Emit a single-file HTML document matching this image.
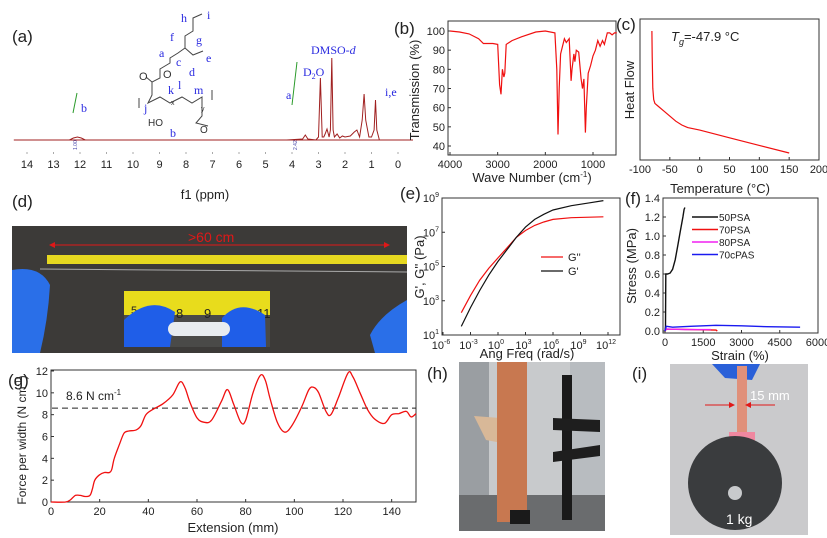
<!DOCTYPE html>
<html><head><meta charset="utf-8"><style>
body{margin:0;background:#fff}
svg{display:block;font-family:"Liberation Sans",sans-serif}
.tk{font-size:11px;fill:#222}
.tt{font-size:13px;fill:#222}
.pl{font-size:17px;fill:#222}
.bl{font-family:"Liberation Serif",serif;fill:#2a2ae0;font-size:12px}
</style></head><body>
<svg id="fig" width="827" height="538" viewBox="0 0 827 538" xmlns="http://www.w3.org/2000/svg">
<!-- Panel a -->
<g>
<text class="pl" x="12" y="42">(a)</text>
<g id="nmrAxis"></g>
<text class="tt" x="205" y="199" text-anchor="middle">f1 (ppm)</text>
<polyline id="nmrLine" fill="none" stroke="#a02020" stroke-width="1"></polyline>
<line x1="77" y1="93" x2="73" y2="113" stroke="#2a9a2a"/>
<line x1="297" y1="62" x2="292" y2="105" stroke="#2a9a2a"/>
<text x="77" y="150" font-size="5" fill="#44a" transform="rotate(-90 77 150)">1.00</text>
<text x="297" y="150" font-size="5" fill="#44a" transform="rotate(-90 297 150)">2.42</text>
<g stroke="#444" stroke-width="1" fill="none">
<polyline points="202,14 193,18 193,31 185,36 185,48 178,53 170,58 170,63 160,69 160,78 152,82 152,95 148,103 160,97 170,103 182,97 192,103 202,97 202,116 196,123 208,126"/>
<polyline points="185,48 193,55 203,51"/>
<line x1="152" y1="82" x2="146" y2="77"/>
<line x1="139" y1="98" x2="139" y2="108"/><line x1="212" y1="90" x2="212" y2="100"/>
</g>
<text x="139" y="80" font-size="11" fill="#333">O</text>
<text x="163" y="78" font-size="11" fill="#333">O</text>
<text x="148" y="126" font-size="10" fill="#333">HO</text>
<text x="200" y="133" font-size="10" fill="#333">O</text>
<text class="bl" x="181" y="22">h</text>
<text class="bl" x="207" y="19">i</text>
<text class="bl" x="170" y="41">f</text>
<text class="bl" x="196" y="44">g</text>
<text class="bl" x="159" y="57">a</text>
<text class="bl" x="176" y="66">c</text>
<text class="bl" x="206" y="62">e</text>
<text class="bl" x="189" y="76">d</text>
<text class="bl" x="168" y="94">k</text>
<text class="bl" x="178" y="89">l</text>
<text class="bl" x="194" y="94">m</text>
<text class="bl" x="144" y="112">j</text>
<text x="171" y="105" font-size="7" fill="#333">x</text><text x="201" y="111" font-size="7" fill="#333">y</text>
<text class="bl" x="81" y="112">b</text>
<text class="bl" x="170" y="137">b</text>
<text class="bl" x="286" y="99">a</text>
<text class="bl" x="303" y="76">D<tspan font-size="8" dy="3">2</tspan><tspan dy="-3">O</tspan></text>
<text class="bl" x="311" y="54">DMSO-<tspan font-style="italic">d</tspan></text>
<text class="bl" x="385" y="96">i,e</text>
</g>

<!-- Panel b -->
<g>
<text class="pl" x="394" y="34">(b)</text>
<rect x="448" y="21" width="168" height="134" fill="none" stroke="#333"/>
<g id="ftirAxes"></g>
<polyline id="ftirLine" fill="none" stroke="#f01010" stroke-width="1.2"></polyline>
<text class="tt" x="532" y="182" text-anchor="middle">Wave Number (cm<tspan font-size="8" dy="-5">-1</tspan><tspan dy="5">)</tspan></text>
<text class="tt" x="419" y="90" text-anchor="middle" transform="rotate(-90 419 90)">Transmission (%)</text>
</g>

<!-- Panel c -->
<g>
<text class="pl" x="616" y="30">(c)</text>
<rect x="640" y="19" width="179" height="141" fill="none" stroke="#333"/>
<g id="dscAxes"></g>
<polyline id="dscLine" fill="none" stroke="#f01010" stroke-width="1.2"></polyline>
<text class="tt" x="671" y="41"><tspan font-style="italic">T</tspan><tspan font-size="9" dy="4" font-style="italic">g</tspan><tspan dy="-4">=-47.9 °C</tspan></text>
<text class="tt" x="634" y="90" text-anchor="middle" transform="rotate(-90 634 90)">Heat Flow</text>
<text class="tt" x="720" y="193" text-anchor="middle">Temperature (°C)</text>
</g>

<!-- Panel d photo -->
<g>
<text class="pl" x="12" y="207">(d)</text>
<rect x="12" y="226" width="395" height="127" fill="#3c3a38"/>
<rect x="47" y="255" width="360" height="9" fill="#e6d820"/>
<line x1="40" y1="269" x2="407" y2="272" stroke="#aaa" stroke-width="1"/>
<line x1="52" y1="245" x2="387" y2="245" stroke="#e01818" stroke-width="1"/>
<polygon points="49,245 55,242 55,248" fill="#e01818"/><polygon points="390,245 384,242 384,248" fill="#e01818"/>
<text x="188" y="242" font-size="14" fill="#e01818">&gt;60 cm</text>
<path d="M12,270 Q40,265 50,285 Q48,320 40,353 L12,353 Z" fill="#2a6fe8"/>
<path d="M407,300 Q380,315 370,335 L375,353 L407,353 Z" fill="#2a6fe8"/>
<rect x="124" y="291" width="146" height="56" fill="#4a4a48"/>
<rect x="124" y="291" width="146" height="24" fill="#e8dc1c"/>
<text x="131" y="314" font-size="11" fill="#222">5</text><text x="176" y="318" font-size="13" fill="#222">8</text><text x="204" y="318" font-size="13" fill="#222">9</text><text x="257" y="318" font-size="13" fill="#222">11</text>
<path d="M124,320 Q150,295 175,312 L170,347 L124,347 Z" fill="#1f5ee8"/>
<path d="M222,318 Q240,298 265,315 L266,347 L222,347 Z" fill="#1f5ee8"/>
<rect x="168" y="322" width="62" height="14" rx="7" fill="#e8ecef"/>
</g>

<!-- Panel e -->
<g>
<text class="pl" x="400" y="199">(e)</text>
<rect x="442" y="198" width="178" height="137" fill="none" stroke="#333"/>
<g id="rheoAxes"></g>
<polyline id="gpp" fill="none" stroke="#f01010" stroke-width="1.2"></polyline>
<polyline id="gp" fill="none" stroke="#111" stroke-width="1.2"></polyline>
<line x1="541" y1="257" x2="563" y2="257" stroke="#f01010" stroke-width="1.3"/>
<text x="568" y="261" font-size="11" fill="#222">G''</text>
<line x1="541" y1="271" x2="563" y2="271" stroke="#111" stroke-width="1.3"/>
<text x="568" y="275" font-size="11" fill="#222">G'</text>
<text class="tt" x="424" y="267" text-anchor="middle" transform="rotate(-90 424 267)">G', G'' (Pa)</text>
<text class="tt" x="527" y="358" text-anchor="middle">Ang Freq (rad/s)</text>
</g>

<!-- Panel f -->
<g>
<text class="pl" x="625" y="204">(f)</text>
<rect x="663" y="198" width="155" height="135" fill="none" stroke="#333"/>
<g id="tenAxes"></g>
<g id="tenLines"></g>
<g id="tenLegend"></g>
<text class="tt" x="636" y="266" text-anchor="middle" transform="rotate(-90 636 266)">Stress (MPa)</text>
<text class="tt" x="740" y="360" text-anchor="middle">Strain (%)</text>
</g>

<!-- Panel g -->
<g>
<text class="pl" x="8" y="386">(g)</text>
<rect x="51" y="370" width="365" height="132" fill="none" stroke="#333"/>
<g id="peelAxes"></g>
<line id="peelRef" stroke="#222" stroke-dasharray="6,4" stroke-width="1"/>
<path id="peelLine" fill="none" stroke="#f01010" stroke-width="1.3"></path>
<text x="66" y="400" font-size="12" fill="#222">8.6 N cm<tspan font-size="8" dy="-5">-1</tspan></text>
<text x="26" y="440" font-size="12" fill="#222" text-anchor="middle" transform="rotate(-90 26 440)">Force per width (N cm<tspan font-size="8" dy="-5">-1</tspan><tspan dy="5">)</tspan></text>
<text class="tt" x="233" y="532" text-anchor="middle">Extension (mm)</text>
</g>

<!-- Panel h photo -->
<g>
<text class="pl" x="427" y="379">(h)</text>
<rect x="459" y="362" width="146" height="169" fill="#c8cacc"/>
<rect x="459" y="362" width="30" height="169" fill="#9a9ea2"/>
<rect x="570" y="362" width="35" height="169" fill="#b8bcc0"/>
<rect x="459" y="495" width="146" height="36" fill="#6a6c6e"/>
<polygon points="474,416 500,418 502,443 486,440" fill="#d8b898"/>
<rect x="497" y="362" width="30" height="160" fill="#c87850"/>
<rect x="562" y="375" width="10" height="145" fill="#1a1a1a"/>
<path d="M553,418 L600,420 L600,432 L553,430 Z M553,452 L600,445 L600,456 L553,462 Z" fill="#1e1e1e"/>
<rect x="510" y="510" width="20" height="14" fill="#1a1a1a"/>
</g>

<!-- Panel i photo -->
<g>
<text class="pl" x="632" y="379">(i)</text>
<rect x="670" y="364" width="138" height="171" fill="#cacacc"/>
<path d="M712,364 L760,364 L752,380 L725,378 Z" fill="#2a60d8"/>
<rect x="737" y="366" width="10" height="76" fill="#e0907a"/>
<rect x="729" y="432" width="26" height="10" fill="#f088a0"/>
<rect x="738" y="442" width="6" height="44" fill="#e0e4e8"/>
<circle cx="735" cy="483" r="47" fill="#3a3c3e"/>
<circle cx="735" cy="493" r="7" fill="#c8cacc"/>
<line x1="705" y1="405" x2="731" y2="405" stroke="#e01818"/><polygon points="735,405 729,402 729,408" fill="#e01818"/>
<line x1="749" y1="405" x2="775" y2="405" stroke="#e01818"/><polygon points="745,405 751,402 751,408" fill="#e01818"/>
<text x="750" y="400" font-size="13" fill="#fff">15 mm</text>
<text x="726" y="524" font-size="14" fill="#fff">1 kg</text>
</g>
</svg>
<script>
// ===== Data arrays =====
const nmrPpm = [14.5,12.4,12.25,12.1,11.95,11.8,4.2,3.6,3.5,3.4,3.1,3.0,2.93,2.86,2.8,2.75,2.68,2.6,2.55,2.5,2.45,2.4,2.3,2.2,2.1,2.0,1.8,1.65,1.55,1.45,1.35,1.28,1.22,1.1,1.0,0.9,0.85,0.8,0.7,0.5,-0.2];
const nmrInt = [0,0,2,3,2,0,0,1,5,1,0,3,62,3,3,6,11,3,10,82,10,3,6,2,4,3,4,8,10,3,20,46,20,3,3,10,40,10,0,0,0];
const ftirWn = [4000,3800,3600,3400,3300,3100,3000,2960,2930,2900,2870,2850,2820,2700,2500,2200,2000,1800,1760,1735,1710,1680,1640,1600,1560,1500,1460,1440,1400,1380,1350,1300,1250,1220,1190,1160,1140,1100,1050,1000,950,900,850,800,760,700,650,600,550,500];
const ftirT = [100,99.5,98.5,96,93.5,93.5,93,72,67,80,76,78,93,95,97,99.5,100,99,80,46,70,88,92,96,94,96,74,80,88,84,90,89,75,70,75,47,60,78,82,87,90,95,92,95,93,99,99,98,99,99];
const ftirXTicks = [4000,3000,2000,1000];
const ftirYTicks = [40,50,60,70,80,90,100];
const dscT = [-80,-79.5,-78.5,-77,-75,-70,-60,-50,-40,-30,-20,0,50,100,150];
const dscHF = [100,80,55,46,43,41,37,33,29,26,24,22,16,10,4];
const dscXTicks = [-100,-50,0,50,100,150,200];
const rheoLogW = [-4,-3,-2,-1,0,1,2,3,4,5,6,8,10,11.5];
const rheoLogG2 = [2.3,3.3,4.2,4.9,5.5,6.1,6.7,7.1,7.4,7.6,7.75,7.85,7.88,7.9];
const rheoLogG1 = [1.5,2.6,3.6,4.5,5.3,6.0,6.7,7.3,7.75,8.05,8.3,8.55,8.72,8.85];
const rheoXTicks = [-6,-3,0,3,6,9,12];
const rheoYTicks = [1,3,5,7,9];
const tenNames = ["50PSA","70PSA","80PSA","70cPAS"];
const tenColors = ["#111","#f01010","#f020f0","#1a1af0"];
const tenStrain = [
 [0,20,30,100,200,300,400,500,600,700,750,780],
 [0,50,2000,2050],
 [0,50,800,1800],
 [0,50,300,1000,2000,3000,4000,5300]];
const tenStress = [
 [0,0.05,0.6,0.6,0.61,0.65,0.75,0.9,1.05,1.2,1.28,1.3],
 [0,0.02,0.01,0],
 [0,0.02,0.015,0.015],
 [0,0.05,0.04,0.05,0.06,0.055,0.045,0.04]];
const tenXTicks = [0,1500,3000,4500,6000];
const tenYTicks = [0,0.2,0.4,0.6,0.8,1.0,1.2,1.4];
const peelX = [0,6,8,10,12,14,16,17,18,20,22,24,25,26,28,30,32,35,37,39,42,46,50,53,55,57,60,63,66,70,72.5,75,78,80,83,86,88,90,93,96,99,103,106,108,110,113,115,118,122,124,127,130,133,137,140,143,146,148,150];
const peelF = [0,0,0.2,0.6,0.6,0.5,0.6,1.2,2,2.5,2.7,2.7,3,4,5.2,6.3,6.5,6.6,7,8,8.5,9,9.8,11,10.5,9.2,7.7,7.3,7.5,9.2,10.3,9,7.3,7.5,10,11.6,11.2,9.5,7.3,6.4,7,8.7,10.3,10.5,10,8.3,8,9.5,11.8,11.5,10,8.5,7.6,7.2,8,8.1,8.3,7.8,8.1];
const peelAvg = 8.6;
const peelXTicks = [0,20,40,60,80,100,120,140];
const peelYTicks = [0,2,4,6,8,10,12];
const nmrTicks = [14,13,12,11,10,9,8,7,6,5,4,3,2,1,0];

// ===== helpers =====
const NS="http://www.w3.org/2000/svg";
function lin(d0,d1,r0,r1){return v=>r0+(v-d0)*(r1-r0)/(d1-d0);}
function mk(parent,tag,attrs){const e=document.createElementNS(NS,tag);for(const k in attrs)e.setAttribute(k,attrs[k]);parent.appendChild(e);return e;}
function pts(xs,ys,fx,fy){return xs.map((x,i)=>fx(x).toFixed(1)+","+fy(ys[i]).toFixed(1)).join(" ");}
function axes(g,xt,fx,yb,yt,fy,ylx,xlab,ylab,ticklen){
 xt.forEach(v=>{const x=fx(v);
  const l=mk(g,"line",{x1:x,x2:x,y1:yb,y2:yb-ticklen,stroke:"#333"});
  
  
  const s=xlab(v);
  if(s!==""){const t=mk(g,"text",{x:x,y:yb+13,"text-anchor":"middle",class:"tk"});t.textContent=s;
  
  }});
 yt.forEach(v=>{const y=fy(v);
  const l=mk(g,"line",{x1:ylx,x2:ylx+ticklen,y1:y,y2:y,stroke:"#333"});
  
  
  const t=mk(g,"text",{x:ylx-3,y:y+4,"text-anchor":"end",class:"tk"});t.innerHTML=ylab(v);
  
  });
}

// NMR
(function(){
 const fx=lin(0,4,398,292), fy=v=>140-v;
 document.getElementById('nmrLine').setAttribute('points',pts(nmrPpm,nmrInt,fx,fy));
 const g=document.getElementById('nmrAxis');
 nmrTicks.forEach(v=>{const x=fx(v);
  const t=mk(g,"text",{x:x,y:168,"text-anchor":"middle",class:"tk"});t.textContent=v;
  
  
  const d=mk(g,"line",{x1:x,x2:x,y1:152,y2:154,stroke:"#aaa"});
  
  });
 const b=mk(g,"line",{x1:23,x2:413,y1:140,y2:140,stroke:"#a02020"});
 
 
})();
// FTIR
(function(){
 const fx=lin(4000,1000,450,593), fy=lin(100,40,31,146);
 document.getElementById('ftirLine').setAttribute('points',pts(ftirWn,ftirT,fx,fy));
 axes(document.getElementById('ftirAxes'),ftirXTicks,fx,155,ftirYTicks,fy,448,v=>v,v=>v,3);
})();
// DSC
(function(){
 const fx=lin(-100,200,640,819), fy=lin(100,4,31,153);
 document.getElementById('dscLine').setAttribute('points',pts(dscT,dscHF,fx,fy));
 axes(document.getElementById('dscAxes'),dscXTicks,fx,160,[],fy,640,v=>v,v=>v,3);
})();
// Rheology
(function(){
 const fx=lin(-6,12,443,608), fy=lin(9,1,198,335);
 document.getElementById('gpp').setAttribute('points',pts(rheoLogW,rheoLogG2,fx,fy));
 document.getElementById('gp').setAttribute('points',pts(rheoLogW,rheoLogG1,fx,fy));
 axes(document.getElementById('rheoAxes'),rheoXTicks,fx,335,rheoYTicks,fy,442,
  v=>"",v=>'10<tspan font-size="7" dy="-5">'+v+'</tspan>',3);
 const g=document.getElementById('rheoAxes');
 rheoXTicks.forEach(v=>{const t=mk(g,"text",{x:fx(v)-2,y:349,"text-anchor":"middle",class:"tk"});
  t.innerHTML='10<tspan font-size="7" dy="-5">'+v+'</tspan>';
  
  });
})();
// Tensile
(function(){
 const fx=lin(0,6000,665,818), fy=lin(0,1.4,331,198);
 const g=document.getElementById('tenLines'), lg=document.getElementById('tenLegend');
 tenNames.forEach((n,i)=>{
  const p=mk(g,"polyline",{points:pts(tenStrain[i],tenStress[i],fx,fy),fill:"none",stroke:tenColors[i],"stroke-width":1.4});
  
  
  const y=217+i*12.5;
  const l=mk(lg,"line",{x1:692,x2:718,y1:y,y2:y,stroke:tenColors[i],"stroke-width":1.4});
  
  
  const t=mk(lg,"text",{x:719,y:y+4,"font-size":10,fill:"#222"});t.textContent=n;
  
  
 });
 axes(document.getElementById('tenAxes'),tenXTicks,fx,333,tenYTicks,fy,663,v=>v,v=>v.toFixed(1),3);
})();
// Peel
(function(){
 const fx=lin(0,150,51,416), fy=lin(0,12,502,371);
 const P=peelX.map((x,i)=>[fx(x),fy(peelF[i])]);
 let d="M"+P[0][0]+","+P[0][1];
 for(let i=0;i<P.length-1;i++){const p0=P[Math.max(0,i-1)],p1=P[i],p2=P[i+1],p3=P[Math.min(P.length-1,i+2)];
  d+=" C"+(p1[0]+(p2[0]-p0[0])/6).toFixed(1)+","+(p1[1]+(p2[1]-p0[1])/6).toFixed(1)+" "+(p2[0]-(p3[0]-p1[0])/6).toFixed(1)+","+(p2[1]-(p3[1]-p1[1])/6).toFixed(1)+" "+p2[0].toFixed(1)+","+p2[1].toFixed(1);}
 document.getElementById('peelLine').setAttribute('d',d);
 const r=document.getElementById('peelRef');
 r.setAttribute('x1',fx(0)+1);r.setAttribute('x2',fx(150));r.setAttribute('y1',fy(peelAvg));r.setAttribute('y2',fy(peelAvg));
 axes(document.getElementById('peelAxes'),peelXTicks,fx,502,peelYTicks,fy,51,v=>v,v=>v,3);
})();
</script>
</body></html>
